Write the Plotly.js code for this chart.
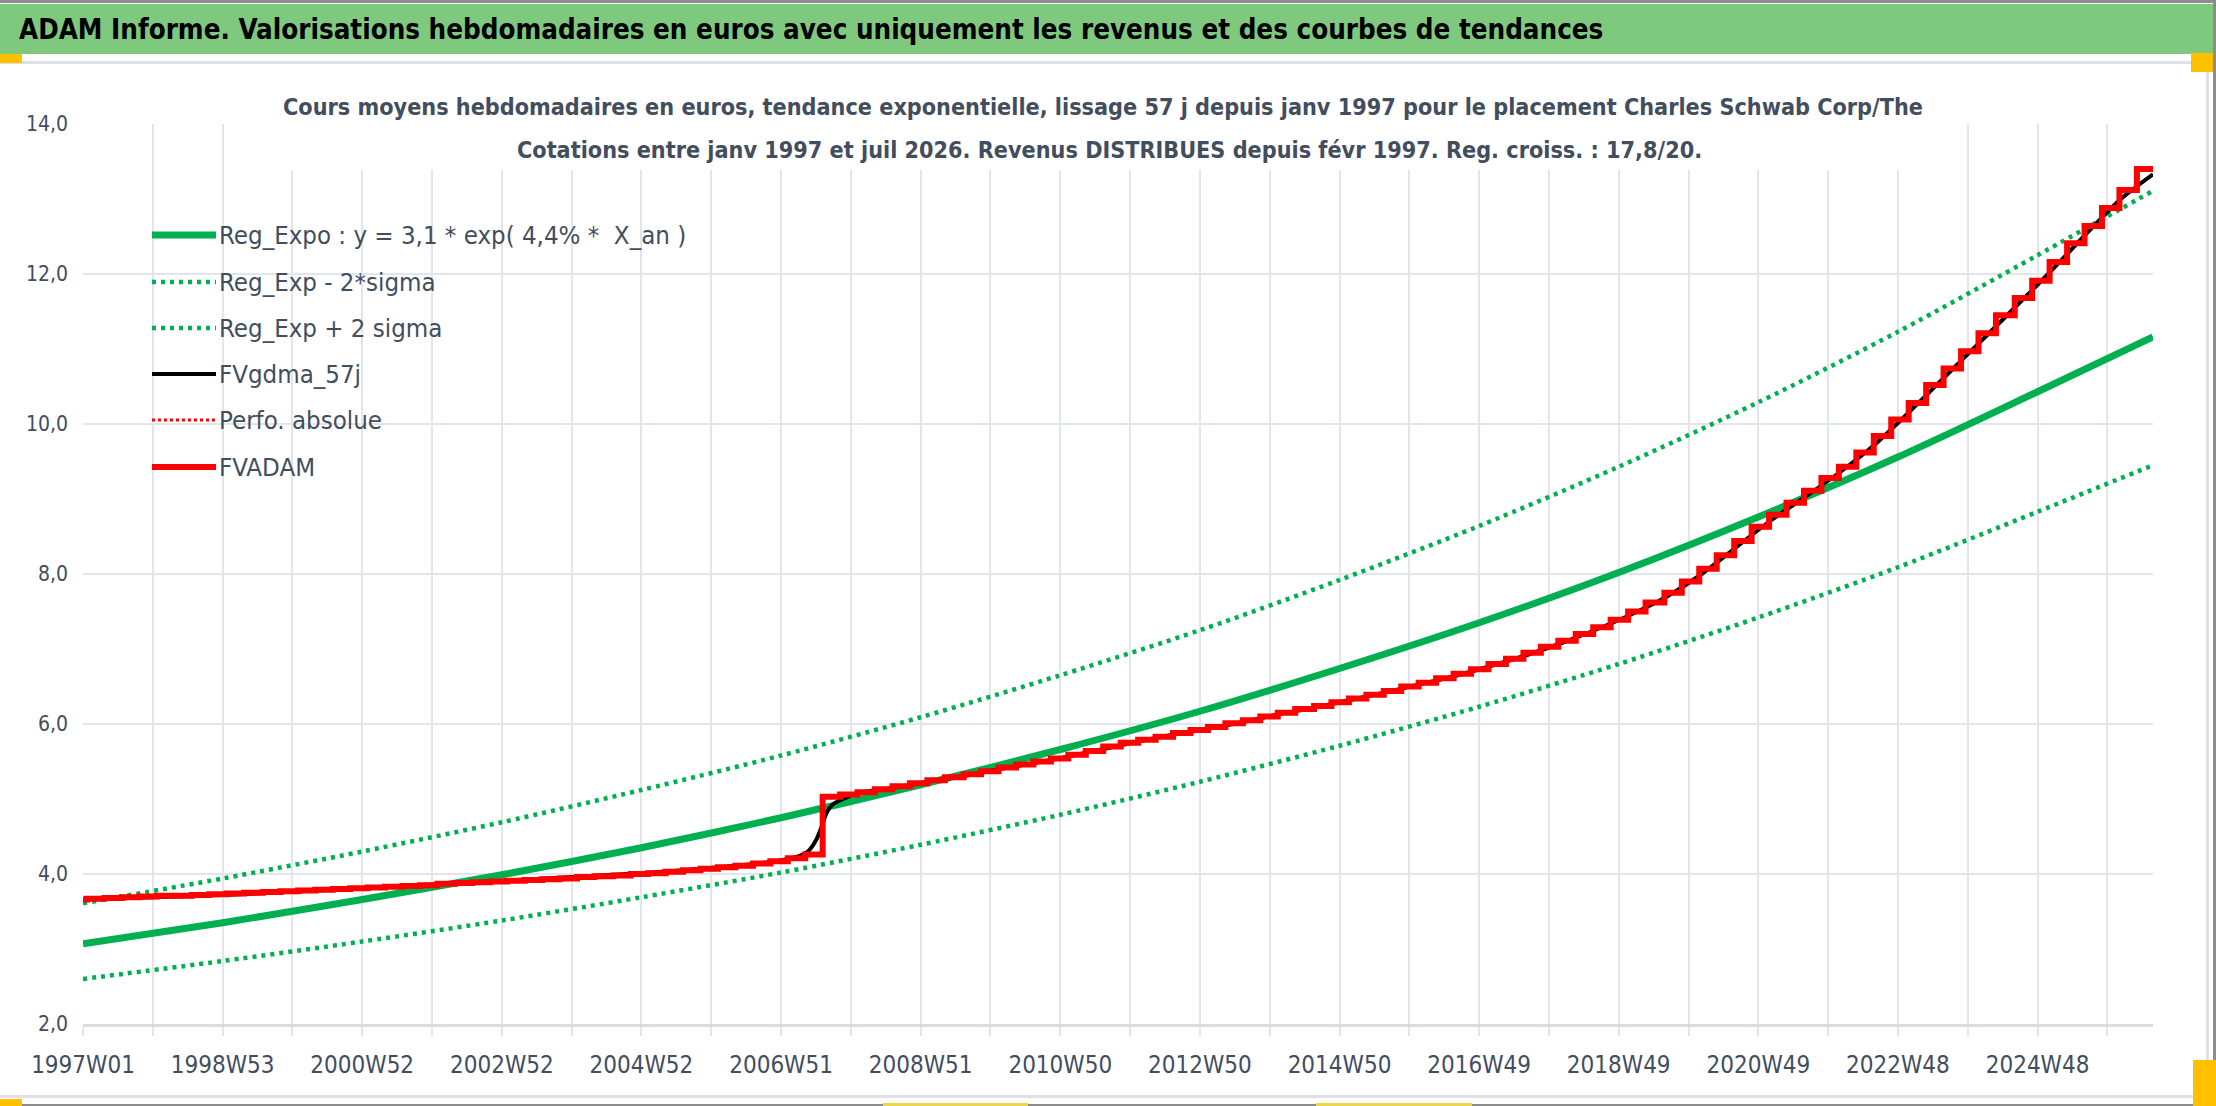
<!DOCTYPE html>
<html>
<head>
<meta charset="utf-8">
<script src="https://cdn.plot.ly/plotly-3.0.1.min.js"></script>
<style>html,body{margin:0;padding:0;background:#fff;overflow:hidden}</style>
</head>
<body>
<div id="chart" style="width:2216px;height:1106px"></div>
<script>
// ---------- DATA ----------
const bannerTitle = "ADAM Informe. Valorisations hebdomadaires en euros avec uniquement les revenus et des courbes de tendances";
const titleLine1 = "Cours moyens hebdomadaires en euros, tendance exponentielle, lissage 57 j depuis janv 1997 pour le placement Charles Schwab Corp/The";
const titleLine2 = "Cotations entre janv 1997 et juil 2026. Revenus DISTRIBUES depuis févr 1997. Reg. croiss. : 17,8/20.";

const seriesNames = ["Reg_Expo : y = 3,1 * exp( 4,4% *  X_an )", "Reg_Exp - 2*sigma", "Reg_Exp + 2 sigma", "FVgdma_57j", "Perfo. absolue", "FVADAM"];

// x = week number counted from 1997W01 (= 0)
const gridWeeks = [0,52,104,156,208,260,312,364,416,468,520,572,624,676,728,780,832,884,936,988,1040,1092,1144,1196,1248,1300,1352,1404,1456,1508];
const tickLabels = ["1997W01","","1998W53","","2000W52","","2002W52","","2004W52","","2006W51","","2008W51","","2010W50","","2012W50","","2014W50","","2016W49","","2018W49","","2020W49","","2022W48","","2024W48",""];
const lastWeek = 1542; // 2026W30
const yTicks = [2,4,6,8,10,12,14];

// exponential trend and ±2 sigma bands, read every 104 weeks
const trendWeeks = [0,104,208,312,416,520,624,728,832,936,1040,1144,1248,1352,1456,1542];
const regExpo = [3.07,3.35,3.66,3.99,4.35,4.75,5.19,5.66,6.17,6.74,7.35,8.02,8.76,9.56,10.43,11.16];
const regLow  = [2.60,2.84,3.10,3.38,3.69,4.02,4.39,4.79,5.23,5.71,6.23,6.80,7.42,8.09,8.83,9.45];
const regHigh = [3.61,3.94,4.30,4.69,5.12,5.58,6.09,6.65,7.25,7.92,8.64,9.43,10.29,11.23,12.25,13.11];

// FVADAM : level after each quarterly distribution step
const stepWeeks = [0,
  3,16,29,42,55,68,81,94,107,120,
  134,147,160,173,186,199,212,225,238,251,
  264,277,290,303,316,329,342,355,368,381,
  395,408,421,434,447,460,473,486,499,512,
  525,538,551,564,577,590,603,616,629,642,
  656,669,682,695,708,721,734,747,760,773,
  786,799,812,825,838,851,864,877,890,903,
  917,930,943,956,969,982,995,1008,1021,1034,
  1047,1060,1073,1086,1099,1112,1125,1138,1151,1164,
  1178,1191,1204,1217,1230,1243,1256,1269,1282,1295,
  1308,1321,1334,1347,1360,1373,1386,1399,1412,1425,
  1439,1452,1465,1478,1491,1504,1517,1530,
  1542];
const fvadam = [3.66,
  3.67,3.68,3.69,3.70,3.71,3.71,3.72,3.73,3.74,3.75,
  3.76,3.77,3.78,3.79,3.80,3.81,3.82,3.83,3.84,3.85,
  3.87,3.88,3.89,3.90,3.91,3.92,3.93,3.94,3.96,3.97,
  3.98,4.00,4.01,4.03,4.05,4.07,4.09,4.11,4.14,4.17,
  4.21,4.26,5.03,5.06,5.09,5.13,5.17,5.21,5.25,5.29,
  5.33,5.37,5.42,5.46,5.50,5.54,5.59,5.64,5.70,5.75,
  5.79,5.83,5.88,5.92,5.96,6.01,6.05,6.10,6.15,6.20,
  6.24,6.29,6.34,6.39,6.44,6.50,6.55,6.61,6.67,6.73,
  6.80,6.87,6.95,7.03,7.11,7.20,7.29,7.39,7.50,7.62,
  7.75,7.90,8.07,8.25,8.44,8.63,8.79,8.95,9.11,9.28,
  9.43,9.62,9.84,10.06,10.28,10.52,10.74,10.97,11.21,11.45,
  11.68,11.91,12.16,12.41,12.64,12.88,13.12,13.40,
  13.40];

// FVgdma_57j : smoothed value
const gdmaWeeks = [0,104,208,312,416,480,512,530,540,546,550,554,558,566,
  578,604,630,657,683,709,735,761,787,813,839,865,891,918,944,970,996,1022,1048,1074,1100,1126,1152,1179,1205,1231,1257,1283,1309,1335,1361,1387,1413,1440,1466,1492,1518,1542];
const fvgdma = [3.66,3.72,3.81,3.91,4.01,4.10,4.16,4.22,4.30,4.45,4.62,4.82,4.92,5.00,
  5.08,5.15,5.23,5.31,5.40,5.48,5.57,5.67,5.77,5.86,5.94,6.03,6.13,6.22,6.32,6.42,6.53,6.64,6.77,6.91,7.07,7.25,7.45,7.69,7.99,8.35,8.71,9.03,9.36,9.73,10.17,10.63,11.09,11.57,12.04,12.53,13.00,13.33];

// ---------- STYLE ----------
const GREEN = "#00b050", RED = "#ff0000", BLACK = "#000000";
const TXT = "#424d5e", GRID = "#e2e5eb";
const FONT = '"DejaVu Sans Condensed", "Liberation Sans Narrow", sans-serif';

const L = 83, R = 2153, T = 124, B = 1024; // plot area in px
const xp = px => (px - L) / (R - L);
const yp = py => (B - py) / (B - T);

const traceStyles = [
  {color: GREEN, width: 7, dash: "solid", shape: "spline", x: trendWeeks, y: regExpo},
  {color: GREEN, width: 4.5, dash: "4px,5px", shape: "spline", x: trendWeeks, y: regLow},
  {color: GREEN, width: 4.5, dash: "4px,5px", shape: "spline", x: trendWeeks, y: regHigh},
  {color: BLACK, width: 4, dash: "solid", shape: "spline", x: gdmaWeeks, y: fvgdma},
  {color: RED, width: 2.5, dash: "3px,3px", shape: "hv", x: stepWeeks, y: fvadam},
  {color: RED, width: 6, dash: "solid", shape: "hv", x: stepWeeks, y: fvadam}
];

const data = traceStyles.map((s, i) => ({
  type: "scatter", mode: "lines", name: seriesNames[i],
  x: s.x, y: s.y,
  line: {color: s.color, width: s.width, dash: s.dash, shape: s.shape, smoothing: 0.8},
  hoverinfo: "skip", showlegend: false
}));

// ---------- decorations (frame, banner, title box, legend) ----------
const shapes = [];
const rect = (x0, y0, x1, y1, fill, layer) => shapes.push({type: "rect", xref: "paper", yref: "paper",
  x0: xp(x0), x1: xp(x1), y0: yp(y1), y1: yp(y0), fillcolor: fill, line: {width: 0}, layer: layer || "above"});

rect(0, 0, 2216, 3, "#8c8c8c");
rect(0, 4, 2213, 54, "#7fc97f");
rect(0, 61, 2208, 64, "#dfe1e6");
rect(2206, 61, 2209, 1098, "#dfe1e6");
rect(0, 1095, 2208, 1098, "#dfe1e6");
rect(0, 1104, 2216, 1106, "#8c8c8c");
rect(2213, 0, 2216, 1106, "#8c8c8c");
rect(0, 54, 22, 63, "#ffc000");
rect(2191, 53, 2213, 72, "#ffc000");
rect(2193, 1060, 2216, 1106, "#ffc000");
rect(0, 1099, 22, 1106, "#ffc000");
rect(883, 1103, 1028, 1106, "#e8d84a");
rect(1316, 1103, 1472, 1106, "#e8d84a");
// white box behind the chart title
rect(272, 100, 1935, 170, "#ffffff");

const annotations = [
  {text: "<b>" + bannerTitle + "</b>", x: xp(17), y: yp(29), xanchor: "left", yanchor: "middle",
   font: {family: FONT, size: 27.5, color: "#000000"}},
  {text: "<b>" + titleLine1 + "</b>", x: xp(1103), y: yp(107), xanchor: "center", yanchor: "middle",
   font: {family: FONT, size: 23.2, color: TXT}},
  {text: "<b>" + titleLine2 + "</b>", x: xp(1109), y: yp(150), xanchor: "center", yanchor: "middle",
   font: {family: FONT, size: 23.2, color: TXT}}
];

// legend built from the series names and styles
const legendRows = [235, 282, 328, 374, 420, 467];
traceStyles.forEach((s, i) => {
  shapes.push({type: "line", xref: "paper", yref: "paper",
    x0: xp(152), x1: xp(216), y0: yp(legendRows[i]), y1: yp(legendRows[i]),
    line: {color: s.color, width: i === 4 ? 3 : s.width, dash: s.dash}, layer: "above"});
  annotations.push({text: seriesNames[i], x: xp(217), y: yp(legendRows[i]), xanchor: "left", yanchor: "middle",
    font: {family: FONT, size: 25.6, color: TXT}});
});
annotations.forEach(a => { a.xref = "paper"; a.yref = "paper"; a.showarrow = false; });

const layout = {
  width: 2216, height: 1106,
  margin: {l: L, r: 2216 - R, t: T, b: 1106 - B, pad: 0},
  paper_bgcolor: "#ffffff", plot_bgcolor: "#ffffff",
  separators: ", ",
  showlegend: false,
  xaxis: {
    type: "linear", range: [0, lastWeek], tickmode: "array", tickvals: gridWeeks, ticktext: tickLabels,
    showgrid: true, gridcolor: GRID, gridwidth: 2,
    ticks: "outside", ticklen: 9, tickwidth: 2, tickcolor: GRID,
    showline: true, linecolor: "#d9dce3", linewidth: 3,
    zeroline: false, automargin: false, ticklabelstandoff: 8,
    tickfont: {family: FONT, size: 24, color: TXT}
  },
  yaxis: {
    range: [2, 14], tickmode: "array", tickvals: yTicks, tickformat: ".1f",
    showgrid: true, gridcolor: GRID, gridwidth: 2,
    ticks: "", showline: false, zeroline: false, automargin: false, ticklabelstandoff: 14,
    tickfont: {family: FONT, size: 21, color: TXT}
  },
  shapes: shapes,
  annotations: annotations
};

Plotly.newPlot("chart", data, layout, {staticPlot: true, displayModeBar: false});
</script>
</body>
</html>
